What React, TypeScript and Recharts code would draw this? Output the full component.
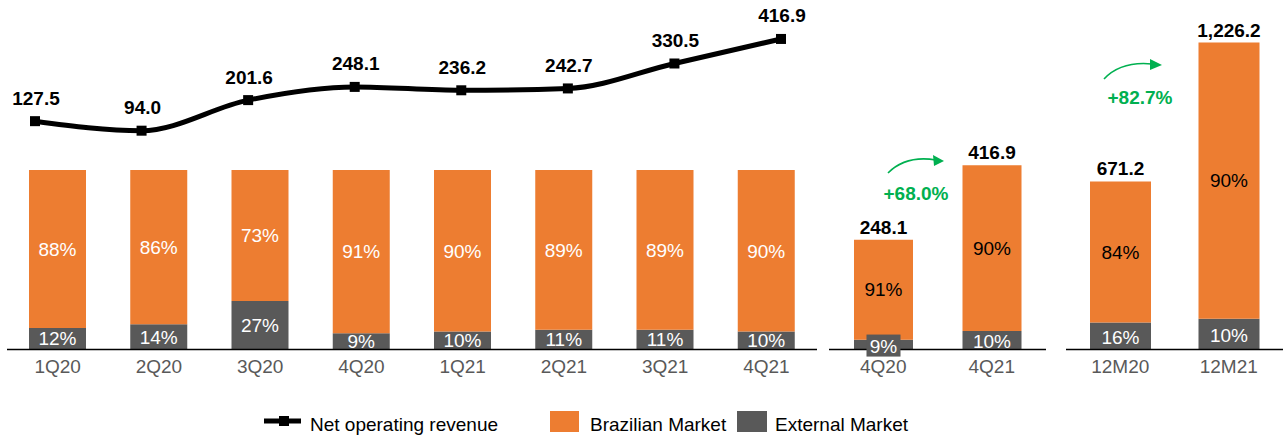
import { Bar, BarChart, LabelList, Line, LineChart, XAxis, YAxis } from 'recharts'

const quarters = ['1Q20', '2Q20', '3Q20', '4Q20', '1Q21', '2Q21', '3Q21', '4Q21']
const revenue = [127.5, 94.0, 201.6, 248.1, 236.2, 242.7, 330.5, 416.9]
const brazilPct = [88, 86, 73, 91, 90, 89, 89, 90]
const externalPct = [12, 14, 27, 9, 10, 11, 11, 10]

const quarterCats = ['4Q20', '4Q21']
const quarterTotals = [248.1, 416.9]
const quarterBrazilPct = [91, 90]
const quarterExternalPct = [9, 10]

const yearCats = ['12M20', '12M21']
const yearTotals = [671.2, 1226.2]
const yearBrazilPct = [84, 90]
const yearExternalPct = [16, 10]

const growthLabels = ['+68.0%', '+82.7%']

const ORANGE = '#ED7D31'
const GRAY = '#595959'
const GREEN = '#00B050'
const FONT = '"Liberation Sans", Arial, sans-serif'

const quarterData = quarters.map((name, i) => ({
  name,
  brazil: brazilPct[i],
  external: externalPct[i],
}))

const lineData = quarters.map((name, i) => ({ name, revenue: revenue[i] }))

const buildTotals = (cats: string[], totals: number[], bPct: number[], ePct: number[]) =>
  cats.map((name, i) => ({
    name,
    total: totals[i],
    brazil: (totals[i] * bPct[i]) / 100,
    external: (totals[i] * ePct[i]) / 100,
    brazilPct: bPct[i],
    externalPct: ePct[i],
  }))

const compareData = buildTotals(quarterCats, quarterTotals, quarterBrazilPct, quarterExternalPct)
const yearData = buildTotals(yearCats, yearTotals, yearBrazilPct, yearExternalPct)

const fmt = (v: number) => v.toLocaleString('en-US', { minimumFractionDigits: 1, maximumFractionDigits: 1 })

const tickStyle = { fill: GRAY, fontSize: 19, fontFamily: FONT }

function ExtLabel(props: any) {
  const { x, y, width, height, value } = props
  const cx = x + width / 2
  const cy = y + height / 2
  const small = height < 14
  return (
    <g>
      {small && <rect x={cx - 17} y={cy - 10} width={34} height={22} fill={GRAY} />}
      <text
        x={cx}
        y={small ? cy + 2 : cy + 1}
        fill="#fff"
        fontSize={19}
        fontFamily={FONT}
        textAnchor="middle"
        dominantBaseline="central"
      >
        {value}%
      </text>
    </g>
  )
}

function Dot(props: any) {
  const { cx, cy } = props
  return <rect x={cx - 5} y={cy - 5} width={10} height={10} fill="#000" />
}

function LineLabel(props: any) {
  const { x, y, value } = props
  return (
    <text x={x + 1} y={y - 23} fontSize={19} fontWeight="bold" fontFamily={FONT} textAnchor="middle" dominantBaseline="central" fill="#000">
      {fmt(value)}
    </text>
  )
}

function TotalsPanel({ data, left, max, barSize }: { data: any[]; left: number; max: number; barSize: number }) {
  return (
    <div style={{ position: 'absolute', left, top: 0 }}>
      <BarChart width={217} height={400} data={data} margin={{ top: 20, right: 0, left: 0, bottom: 20.5 }} barSize={barSize}>
        <XAxis
          dataKey="name"
          height={30}
          tickLine={false}
          tickMargin={4}
          axisLine={{ stroke: '#000', strokeWidth: 1.5 }}
          tick={tickStyle}
          interval={0}
        />
        <YAxis hide domain={[0, max]} allowDataOverflow />
        <Bar dataKey="external" stackId="a" fill={GRAY} isAnimationActive={false}>
          <LabelList dataKey="externalPct" content={ExtLabel} />
        </Bar>
        <Bar dataKey="brazil" stackId="a" fill={ORANGE} isAnimationActive={false}>
          <LabelList
            dataKey="brazilPct"
            position="center"
            formatter={(v: any) => `${v}%`}
            style={{ fill: '#000', fontSize: 19, fontFamily: FONT }}
          />
          <LabelList
            dataKey="total"
            position="top"
            offset={6}
            formatter={(v: any) => fmt(Number(v))}
            style={{ fill: '#000', fontSize: 19, fontWeight: 'bold', fontFamily: FONT }}
          />
        </Bar>
      </BarChart>
    </div>
  )
}

export default function App() {
  return (
    <div style={{ position: 'absolute', left: 0, top: 0, width: 1283, height: 436, background: '#fff', fontFamily: FONT }}>
      <div style={{ position: 'absolute', left: 0, top: 0 }}>
        <BarChart width={820} height={400} data={quarterData} margin={{ top: 170, right: 3, left: 7, bottom: 20.5 }} barSize={57}>
          <XAxis
            dataKey="name"
            height={30}
            tickLine={false}
            tickMargin={4}
            axisLine={{ stroke: '#000', strokeWidth: 1.5 }}
            tick={tickStyle}
            interval={0}
          />
          <YAxis hide domain={[0, 100]} />
          <Bar dataKey="external" stackId="a" fill={GRAY} isAnimationActive={false}>
            <LabelList
              dataKey="external"
              position="center"
              formatter={(v: any) => `${v}%`}
              style={{ fill: '#fff', fontSize: 19, fontFamily: FONT }}
            />
          </Bar>
          <Bar dataKey="brazil" stackId="a" fill={ORANGE} isAnimationActive={false}>
            <LabelList
              dataKey="brazil"
              position="center"
              formatter={(v: any) => `${v}%`}
              style={{ fill: '#fff', fontSize: 19, fontFamily: FONT }}
            />
          </Bar>
        </BarChart>
      </div>

      <div style={{ position: 'absolute', left: 0, top: 0 }}>
        <LineChart width={820} height={400} data={lineData} margin={{ top: 0, right: 39, left: 35, bottom: 0 }}>
          <XAxis dataKey="name" hide scale="point" />
          <YAxis hide domain={[-854, 554]} />
          <Line
            type="monotone"
            dataKey="revenue"
            stroke="#000"
            strokeWidth={5}
            dot={<Dot />}
            activeDot={false}
            isAnimationActive={false}
          >
            <LabelList dataKey="revenue" content={LineLabel} />
          </Line>
        </LineChart>
      </div>

      <TotalsPanel data={compareData} left={829} max={745.6} barSize={59} />
      <TotalsPanel data={yearData} left={1066} max={1316.4} barSize={61} />

      <svg width={1283} height={436} style={{ position: 'absolute', left: 0, top: 0, pointerEvents: 'none' }}>
        {/* growth arrows */}
        <path d="M888,173 Q906,155 936,160" fill="none" stroke={GREEN} strokeWidth={1.6} />
        <polygon points="944,161 933,155 934,166" fill={GREEN} />
        <text x={916} y={193} fill={GREEN} fontSize={19} fontWeight="bold" fontFamily={FONT} textAnchor="middle" dominantBaseline="central">
          {growthLabels[0]}
        </text>
        <path d="M1104,79 Q1121,61 1152,64" fill="none" stroke={GREEN} strokeWidth={1.6} />
        <polygon points="1162,65 1150,59 1150,70" fill={GREEN} />
        <text x={1140} y={97} fill={GREEN} fontSize={19} fontWeight="bold" fontFamily={FONT} textAnchor="middle" dominantBaseline="central">
          {growthLabels[1]}
        </text>

        {/* legend */}
        <line x1={264} y1={421} x2={301} y2={421} stroke="#000" strokeWidth={5} />
        <rect x={279} y={416} width={10} height={10} fill="#000" />
        <text x={310} y={424.5} fontSize={19} fontFamily={FONT} dominantBaseline="central" fill="#000">
          Net operating revenue
        </text>
        <rect x={550} y={411} width={29} height={21} fill={ORANGE} />
        <text x={590} y={424.5} fontSize={19} fontFamily={FONT} dominantBaseline="central" fill="#000">
          Brazilian Market
        </text>
        <rect x={737} y={411} width={30} height={21} fill={GRAY} />
        <text x={775} y={424.5} fontSize={19} fontFamily={FONT} dominantBaseline="central" fill="#000">
          External Market
        </text>
      </svg>
    </div>
  )
}
